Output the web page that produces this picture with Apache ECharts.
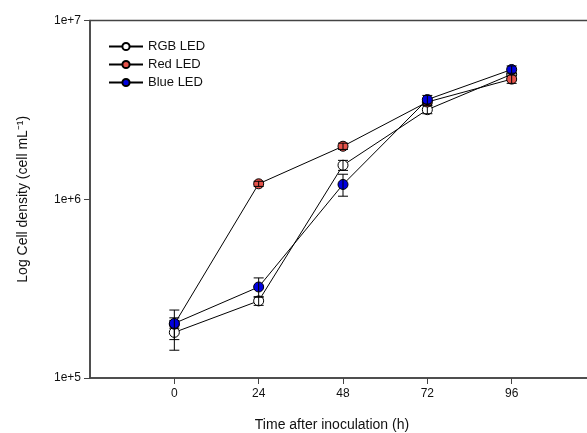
<!doctype html>
<html>
<head>
<meta charset="UTF-8">
<title>Log Cell density</title>
<script src="https://cdn.jsdelivr.net/npm/echarts@6/dist/echarts.min.js"></script>
<style>
  html, body { margin: 0; padding: 0; background: #fff; }
  #main { width: 587px; height: 433px; }
</style>
</head>
<body>
<div id="main"></div>
<script>
// data
var hours = [0, 24, 48, 72, 96];
var rgbVals = [1.8e5, 2.7e5, 1.55e6, 3.17e6, 5.0e6];
var rgbErr = [0.37e5, 0.15e5, 0.1e6, 0.16e6, 0.3e6];
var redVals = [2.0e5, 1.22e6, 1.98e6, 3.5e6, 4.7e6];
var redErr = [0.1e5, 0.04e6, 0.08e6, 0.15e6, 0.25e6];
var blueVals = [2.02e5, 3.23e5, 1.21e6, 3.61e6, 5.32e6];
var blueErr = [0.38e5, 0.4e5, 0.17e6, 0.2e6, 0.25e6];
var yTicks = [1e5, 1e6, 1e7];

var font = 'Liberation Sans, Arial, sans-serif';

function pts(vals) {
    return hours.map(function (h, i) { return [h, vals[i]]; });
}
function errPts(vals, err) {
    return hours.map(function (h, i) { return [h, vals[i], vals[i] - err[i], vals[i] + err[i]]; });
}

function renderErr(params, api) {
    var x = api.value(0);
    var lo = api.coord([x, api.value(2)]);
    var hi = api.coord([x, api.value(3)]);
    var w = 5;
    var st = { stroke: '#000', lineWidth: 1 };
    return {
        type: 'group',
        children: [
            { type: 'line', shape: { x1: lo[0], y1: lo[1], x2: hi[0], y2: hi[1] }, style: st },
            { type: 'line', shape: { x1: lo[0] - w, y1: lo[1], x2: lo[0] + w, y2: lo[1] }, style: st },
            { type: 'line', shape: { x1: hi[0] - w, y1: hi[1], x2: hi[0] + w, y2: hi[1] }, style: st }
        ]
    };
}

function lineSeries(name, vals, color, z) {
    return {
        name: name,
        type: 'line',
        data: pts(vals),
        symbol: 'circle',
        symbolSize: 10,
        z: z,
        lineStyle: { color: '#000', width: 1 },
        itemStyle: { color: color, borderColor: '#000', borderWidth: 1 },
        emphasis: { disabled: true }
    };
}
function errSeries(vals, err, z) {
    return {
        type: 'custom',
        data: errPts(vals, err),
        renderItem: renderErr,
        z: z,
        silent: true,
        encode: { x: 0, y: [1, 2, 3] }
    };
}

var myChart = echarts.init(document.getElementById('main'));
var option = {
    animation: false,
    backgroundColor: '#fff',
    textStyle: { fontFamily: font },
    grid: {
        left: 90, top: 20.5, height: 357.5, width: 506,
        containLabel: false,
        outerBoundsMode: 'none',
        show: true, borderColor: '#444', borderWidth: 1.5
    },
    legend: {
        left: 103, top: 35,
        orient: 'vertical',
        itemWidth: 34, itemHeight: 9, itemGap: 5,
        textStyle: { fontSize: 13, color: '#111', fontFamily: font },
        data: ['RGB LED', 'Red LED', 'Blue LED']
    },
    xAxis: {
        type: 'value',
        min: -24, max: 120, interval: 24,
        name: 'Time after inoculation (h)',
        nameLocation: 'middle',
        nameGap: 40,
        nameTextStyle: { fontSize: 14, color: '#111', fontFamily: font, padding: [0, 22, 0, 0] },
        axisLine: { onZero: false, lineStyle: { color: '#444', width: 1.5 } },
        axisTick: { length: 6, customValues: hours, lineStyle: { color: '#444' } },
        axisLabel: { customValues: hours, fontSize: 12, color: '#111', margin: 10 },
        splitLine: { show: false }
    },
    yAxis: {
        type: 'log',
        logBase: 10,
        min: yTicks[0], max: yTicks[yTicks.length - 1],
        name: 'Log Cell density (cell mL\u207B\u00B9)',
        nameLocation: 'middle',
        nameGap: 60,
        nameTextStyle: { fontSize: 14, color: '#111', fontFamily: font },
        axisLine: { onZero: false, lineStyle: { color: '#444', width: 1.5 } },
        axisTick: { length: 6, lineStyle: { color: '#444' } },
        axisLabel: {
            fontSize: 12, color: '#111', margin: 9,
            formatter: function (v) { return '1e+' + Math.round(Math.log10(v)); }
        },
        minorTick: { show: false },
        splitLine: { show: false }
    },
    series: [
        lineSeries('RGB LED', rgbVals, '#ffffff', 2),
        errSeries(rgbVals, rgbErr, 3),
        lineSeries('Red LED', redVals, '#e5534b', 4),
        errSeries(redVals, redErr, 5),
        lineSeries('Blue LED', blueVals, '#0000e0', 6),
        errSeries(blueVals, blueErr, 7)
    ]
};
myChart.setOption(option);
</script>
</body>
</html>
